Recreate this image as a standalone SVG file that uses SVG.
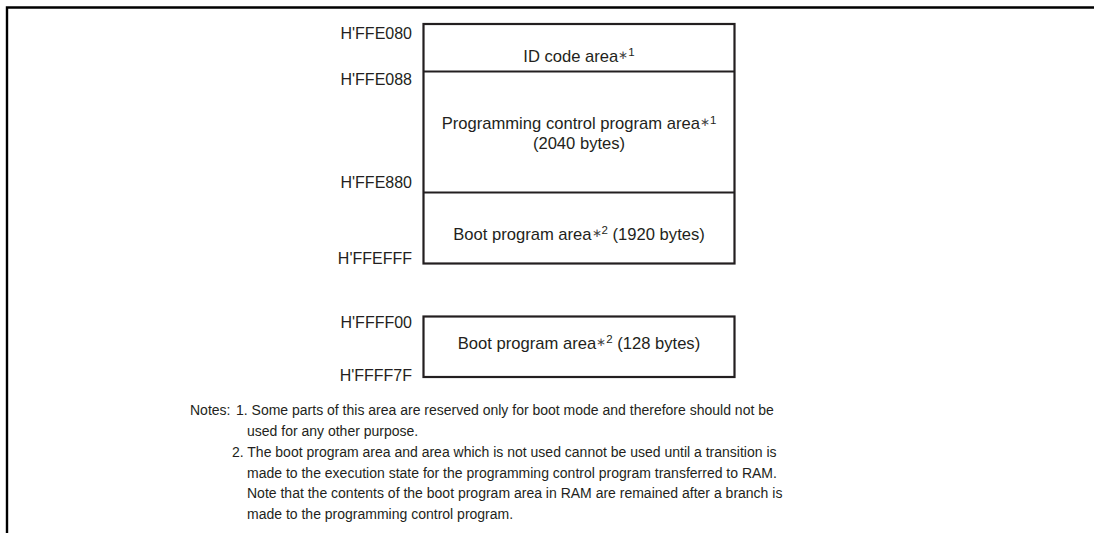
<svg xmlns="http://www.w3.org/2000/svg" width="1094" height="533" viewBox="0 0 1094 533">
<style>
.frame{fill:none;stroke:#000;stroke-width:2.4}
.box{fill:#fff;stroke:#231f20;stroke-width:2.2}
.div{stroke:#231f20;stroke-width:2.2}
text{font-family:"Liberation Sans",Arial,sans-serif;fill:#231f20}
.lbl{font-size:16.6px}
.addr{font-size:16px;text-anchor:end}
.ctr{text-anchor:middle}
.note{font-size:14px}
.ast{font-size:12px;fill:#444}
.sup{font-size:11.5px}
</style>
<rect width="1094" height="533" fill="#fff"/>
<path class="frame" d="M7,533 V7.5 H1094"/>
<g id="main-area">
<rect class="box" x="423.5" y="24" width="311" height="239.5"/>
</g>
<g id="connectors">
<line class="div" x1="423.5" y1="71.5" x2="734.5" y2="71.5"/>
<line class="div" x1="423.5" y1="192.5" x2="734.5" y2="192.5"/>
</g>
<g id="id-code">
<text class="lbl ctr" x="579" y="61.5">ID code area<tspan class="ast" dy="-3">∗</tspan><tspan class="sup" dy="-2.5">1</tspan></text>
</g>
<g id="prog-ctrl">
<text class="lbl ctr" x="579" y="129">Programming control program area<tspan class="ast" dy="-3">∗</tspan><tspan class="sup" dy="-2.5">1</tspan></text>
<text class="lbl ctr" x="579" y="148.5">(2040 bytes)</text>
</g>
<g id="boot1">
<text class="lbl ctr" x="579" y="239.5">Boot program area<tspan class="ast" dy="-3">∗</tspan><tspan class="sup" dy="-2.5">2</tspan><tspan dy="5.5"> (1920 bytes)</tspan></text>
</g>
<g id="boot2">
<rect class="box" x="423.5" y="316.5" width="311" height="60.5"/>
<text class="lbl ctr" x="579" y="348.5">Boot program area<tspan class="ast" dy="-3">∗</tspan><tspan class="sup" dy="-2.5">2</tspan><tspan dy="5.5"> (128 bytes)</tspan></text>
</g>
<g id="addresses">
<text class="addr" x="412" y="39">H'FFE080</text>
<text class="addr" x="412" y="85">H'FFE088</text>
<text class="addr" x="412" y="188">H'FFE880</text>
<text class="addr" x="412" y="264">H'FFEFFF</text>
<text class="addr" x="412" y="328">H'FFFF00</text>
<text class="addr" x="412" y="381">H'FFFF7F</text>
</g>
<g id="notes">
<text class="note" x="190" y="415">Notes:</text>
<text class="note" x="236" y="415">1. Some parts of this area are reserved only for boot mode and therefore should not be</text>
<text class="note" x="247" y="436">used for any other purpose.</text>
<text class="note" x="232" y="457">2. The boot program area and area which is not used cannot be used until a transition is</text>
<text class="note" x="247" y="477.5">made to the execution state for the programming control program transferred to RAM.</text>
<text class="note" x="247" y="498">Note that the contents of the boot program area in RAM are remained after a branch is</text>
<text class="note" x="247" y="519">made to the programming control program.</text>
</g>
</svg>
